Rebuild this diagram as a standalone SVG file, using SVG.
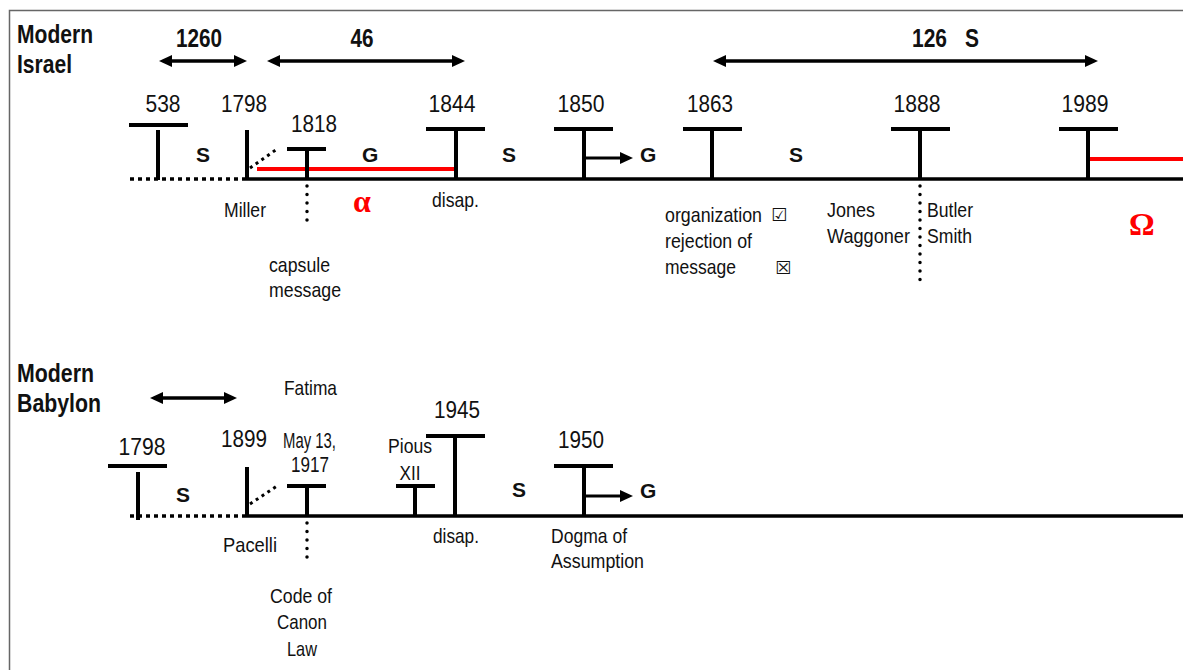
<svg xmlns="http://www.w3.org/2000/svg" width="1183" height="670" viewBox="0 0 1183 670">
<defs>
<style>
.frame{fill:none;stroke:#666;stroke-width:1.5}
.tl{stroke:#000;stroke-width:3.5;fill:none}
.dot{stroke:#000;stroke-width:3.5;stroke-dasharray:4 4;fill:none}
.vdot{stroke:#000;stroke-width:3.5;stroke-linecap:round;stroke-dasharray:0 8.5;fill:none}
.ddot{stroke:#000;stroke-width:3;stroke-dasharray:3 4;fill:none}
.bar{stroke:#000;stroke-width:4;fill:none}
.red{stroke:#f00;stroke-width:4;fill:none}
.arr{stroke:#000;stroke-width:3.5;fill:none;marker-start:url(#ah);marker-end:url(#ah)}
.arr1{stroke:#000;stroke-width:3;fill:none;marker-end:url(#ah)}
text{font-family:"Liberation Sans",Arial,sans-serif;fill:#111}
.yr{font-size:24px;text-anchor:middle}
.lb{font-size:21px}
.lb2{font-size:22px}
.hd{font-size:25px;font-weight:bold}
.sg{font-size:21px;font-weight:bold}
.gr{font-family:"Liberation Serif",serif;font-size:32px;font-weight:bold;fill:#f00}
.sym{font-family:"DejaVu Sans",sans-serif;font-size:18px;font-weight:bold}
</style>
<marker id="ah" markerUnits="userSpaceOnUse" markerWidth="14" markerHeight="14" viewBox="0 0 14 14" refX="3" refY="7" orient="auto-start-reverse">
<path d="M0,1 L13,7 L0,13 z" fill="#000"/>
</marker>
</defs>

<path class="frame" d="M9.5,670 L9.5,10.5 L1183,10.5"/>

<g id="connectors">
<line class="dot" x1="130" y1="179" x2="245" y2="179"/>
<line class="tl" x1="245" y1="179" x2="1183" y2="179"/>
<line class="red" x1="257" y1="169" x2="455" y2="169"/>
<line class="red" x1="1090" y1="159" x2="1183" y2="159"/>
<line class="ddot" x1="250" y1="168" x2="277" y2="149"/>
<line class="vdot" x1="307" y1="186" x2="307" y2="224"/>
<line class="vdot" x1="920" y1="186" x2="920" y2="285"/>
<line class="arr1" x1="584" y1="158" x2="623" y2="158"/>
<line class="arr" x1="169" y1="61" x2="237" y2="61"/>
<line class="arr" x1="277" y1="61" x2="455" y2="61"/>
<line class="arr" x1="723" y1="61" x2="1088" y2="61"/>
<line class="dot" x1="130" y1="516" x2="245" y2="516"/>
<line class="tl" x1="245" y1="516" x2="1183" y2="516"/>
<line class="ddot" x1="250" y1="504" x2="277" y2="486"/>
<line class="vdot" x1="307" y1="523" x2="307" y2="560"/>
<line class="arr1" x1="584" y1="496" x2="623" y2="496"/>
<line class="arr" x1="160" y1="398" x2="227" y2="398"/>
</g>

<g id="israel-title">
<text class="hd" x="17" y="43" textLength="76" lengthAdjust="spacingAndGlyphs">Modern</text>
<text class="hd" x="17" y="73" textLength="55" lengthAdjust="spacingAndGlyphs">Israel</text>
<text class="hd" x="199" y="47" text-anchor="middle" textLength="46" lengthAdjust="spacingAndGlyphs">1260</text>
<text class="hd" x="362" y="47" text-anchor="middle" textLength="23" lengthAdjust="spacingAndGlyphs">46</text>
<text class="hd" x="912" y="47" textLength="35" lengthAdjust="spacingAndGlyphs">126</text>
<text class="hd" x="965" y="47" textLength="14" lengthAdjust="spacingAndGlyphs">S</text>
</g>

<g id="i538">
<line class="bar" x1="129" y1="125" x2="188" y2="125"/>
<line class="bar" x1="158" y1="130" x2="158" y2="180"/>
<text class="yr" x="163" y="112" textLength="35" lengthAdjust="spacingAndGlyphs">538</text>
</g>
<g id="i1798">
<line class="bar" x1="247" y1="130" x2="247" y2="180"/>
<text class="yr" x="244" y="112" textLength="46" lengthAdjust="spacingAndGlyphs">1798</text>
<text class="lb" x="224" y="217" textLength="42" lengthAdjust="spacingAndGlyphs">Miller</text>
</g>
<g id="i1818">
<line class="bar" x1="287" y1="149" x2="326" y2="149"/>
<line class="bar" x1="307" y1="149" x2="307" y2="179"/>
<text class="yr" x="314" y="132" textLength="46" lengthAdjust="spacingAndGlyphs">1818</text>
<text class="lb" x="269" y="272" textLength="61" lengthAdjust="spacingAndGlyphs">capsule</text>
<text class="lb" x="269" y="297" textLength="72" lengthAdjust="spacingAndGlyphs">message</text>
</g>
<g id="i1844">
<line class="bar" x1="426" y1="129" x2="485" y2="129"/>
<line class="bar" x1="456" y1="129" x2="456" y2="179"/>
<text class="yr" x="452" y="112" textLength="47" lengthAdjust="spacingAndGlyphs">1844</text>
<text class="lb" x="432" y="207" textLength="47" lengthAdjust="spacingAndGlyphs">disap.</text>
</g>
<g id="i1850">
<line class="bar" x1="554" y1="129" x2="613" y2="129"/>
<line class="bar" x1="584" y1="129" x2="584" y2="179"/>
<text class="yr" x="581" y="112" textLength="47" lengthAdjust="spacingAndGlyphs">1850</text>
</g>
<g id="i1863">
<line class="bar" x1="683" y1="129" x2="742" y2="129"/>
<line class="bar" x1="712" y1="129" x2="712" y2="179"/>
<text class="yr" x="710" y="112" textLength="46" lengthAdjust="spacingAndGlyphs">1863</text>
<text class="lb" x="665" y="222"><tspan textLength="97" lengthAdjust="spacingAndGlyphs">organization</tspan><tspan class="sym" x="771" y="221">☑</tspan></text>
<text class="lb" x="665" y="248" textLength="87" lengthAdjust="spacingAndGlyphs">rejection of</text>
<text class="lb" x="665" y="274"><tspan textLength="71" lengthAdjust="spacingAndGlyphs">message</tspan><tspan class="sym" x="775" y="274">☒</tspan></text>
</g>
<g id="i1888">
<line class="bar" x1="891" y1="129" x2="950" y2="129"/>
<line class="bar" x1="920" y1="129" x2="920" y2="179"/>
<text class="yr" x="917" y="112" textLength="47" lengthAdjust="spacingAndGlyphs">1888</text>
<text class="lb" x="827" y="217" textLength="48" lengthAdjust="spacingAndGlyphs">Jones</text>
<text class="lb" x="827" y="243" textLength="83" lengthAdjust="spacingAndGlyphs">Waggoner</text>
<text class="lb" x="927" y="217" textLength="46" lengthAdjust="spacingAndGlyphs">Butler</text>
<text class="lb" x="927" y="243" textLength="45" lengthAdjust="spacingAndGlyphs">Smith</text>
</g>
<g id="i1989">
<line class="bar" x1="1059" y1="129" x2="1118" y2="129"/>
<line class="bar" x1="1088" y1="129" x2="1088" y2="179"/>
<text class="yr" x="1085" y="112" textLength="47" lengthAdjust="spacingAndGlyphs">1989</text>
</g>
<g id="israel-periods">
<text class="sg" x="196" y="162">S</text>
<text class="sg" x="362" y="162">G</text>
<text class="sg" x="502" y="162">S</text>
<text class="sg" x="640" y="162">G</text>
<text class="sg" x="789" y="162">S</text>
<text class="gr" x="353" y="212">α</text>
<text class="gr" x="1129" y="235">Ω</text>
</g>

<g id="babylon-title">
<text class="hd" x="17" y="382" textLength="77" lengthAdjust="spacingAndGlyphs">Modern</text>
<text class="hd" x="17" y="412" textLength="84" lengthAdjust="spacingAndGlyphs">Babylon</text>
</g>
<g id="b1798">
<line class="bar" x1="108" y1="466" x2="167" y2="466"/>
<line class="bar" x1="138" y1="472" x2="138" y2="520"/>
<text class="yr" x="142" y="455" textLength="47" lengthAdjust="spacingAndGlyphs">1798</text>
</g>
<g id="b1899">
<line class="bar" x1="247" y1="467" x2="247" y2="517"/>
<text class="yr" x="244" y="447" textLength="46" lengthAdjust="spacingAndGlyphs">1899</text>
<text class="lb" x="223" y="552" textLength="54" lengthAdjust="spacingAndGlyphs">Pacelli</text>
</g>
<g id="b1917">
<line class="bar" x1="287" y1="486" x2="326" y2="486"/>
<line class="bar" x1="307" y1="486" x2="307" y2="516"/>
<text class="lb" x="284" y="395" textLength="53" lengthAdjust="spacingAndGlyphs">Fatima</text>
<text class="lb2" x="283" y="448" textLength="53" lengthAdjust="spacingAndGlyphs">May 13,</text>
<text class="lb2" x="310" y="472" text-anchor="middle" textLength="38" lengthAdjust="spacingAndGlyphs">1917</text>
<text class="lb" x="301" y="603" text-anchor="middle" textLength="62" lengthAdjust="spacingAndGlyphs">Code of</text>
<text class="lb" x="302" y="629" text-anchor="middle" textLength="50" lengthAdjust="spacingAndGlyphs">Canon</text>
<text class="lb" x="302" y="656" text-anchor="middle" textLength="30" lengthAdjust="spacingAndGlyphs">Law</text>
</g>
<g id="bPious">
<line class="bar" x1="396" y1="486" x2="435" y2="486"/>
<line class="bar" x1="415" y1="486" x2="415" y2="516"/>
<text class="lb" x="410" y="453" text-anchor="middle" textLength="44" lengthAdjust="spacingAndGlyphs">Pious</text>
<text class="lb" x="410" y="480" text-anchor="middle" textLength="21" lengthAdjust="spacingAndGlyphs">XII</text>
</g>
<g id="b1945">
<line class="bar" x1="426" y1="436" x2="485" y2="436"/>
<line class="bar" x1="455" y1="436" x2="455" y2="516"/>
<text class="yr" x="457" y="418" textLength="46" lengthAdjust="spacingAndGlyphs">1945</text>
<text class="lb" x="433" y="543" textLength="46" lengthAdjust="spacingAndGlyphs">disap.</text>
</g>
<g id="b1950">
<line class="bar" x1="554" y1="466" x2="613" y2="466"/>
<line class="bar" x1="584" y1="466" x2="584" y2="516"/>
<text class="yr" x="581" y="448" textLength="46" lengthAdjust="spacingAndGlyphs">1950</text>
<text class="lb" x="551" y="543" textLength="76" lengthAdjust="spacingAndGlyphs">Dogma of</text>
<text class="lb" x="551" y="568" textLength="93" lengthAdjust="spacingAndGlyphs">Assumption</text>
</g>
<g id="babylon-periods">
<text class="sg" x="176" y="502">S</text>
<text class="sg" x="512" y="497">S</text>
<text class="sg" x="640" y="498">G</text>
</g>
</svg>
